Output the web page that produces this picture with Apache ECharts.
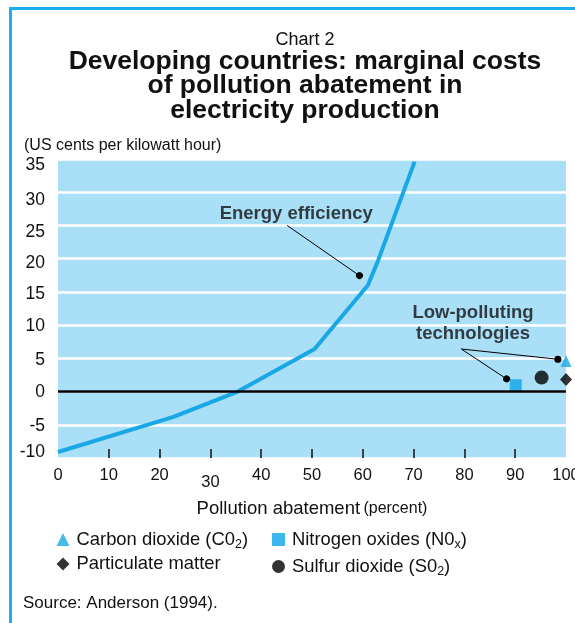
<!DOCTYPE html>
<html>
<head>
    <meta charset="utf-8">
    <title>Chart 2</title>
    <script src="https://cdn.jsdelivr.net/npm/echarts@6/dist/echarts.min.js"></script>
</head>
<body style="margin:0;background:#fff">
<div id="main" style="width: 575px;height:623px;"></div>
<script type="text/javascript">
    // curve: energy efficiency (percent abatement, US cents/kWh)
    var energyCurve = [[0, -9.1], [22.6, -3.85], [35.4, 0], [50.5, 6.4], [61.0, 16.0], [63.0, 19.7], [70.2, 34.6]];

    // low-polluting technologies
    var co2 = [[100, 4.6]];
    var nox = [[90.1, 0.95]];
    var pm = [[100, 1.8]];
    var so2 = [[95.2, 2.1]];

    var xTicks = [10, 20, 30, 40, 50, 60, 70, 80, 90];

    // annotations: label position, leader start, leader end(s)
    var energyLabel = [46.9, 26.8];
    var energyLeader = [[45.1, 25.0], [59.35, 17.45]];
    var lowLabel = [81.7, 10.3];
    var lowLeaderFrom = [79.4, 6.4];
    var lowLeaderTo = [[88.3, 1.9], [98.4, 4.86]];

    var blue = '#1AA7E6';
    var font = 'Liberation Sans, Arial, sans-serif';

    var myChart = echarts.init(document.getElementById('main'));

    var legendNames = {
        'Carbon dioxide': '{sp|}{t|Carbon dioxide (C0}{s|2}{t|)}',
        'Nitrogen oxides': '{sp|}{t|Nitrogen oxides (N0}{s|x}{t|)}',
        'Particulate matter': '{sp|}{t|Particulate matter}',
        'Sulfur dioxide': '{sp|}{t|Sulfur dioxide (S0}{s|2}{t|)}'
    };
    var legendText = {
        fontFamily: font,
        rich: {
            sp: {width: 2},
            t: {fontSize: 18.4, color: '#111', fontFamily: font, lineHeight: 20},
            s: {fontSize: 12.5, color: '#111', fontFamily: font, padding: [10, 0, 0, 0], lineHeight: 20}
        }
    };

    // the printed y labels sit a little off their grid lines
    var yLabelPad = {'35': [13, 0, 0, 0], '30': [15, 0, 0, 0], '25': [13, 0, 0, 0], '20': [9, 0, 0, 0],
        '15': [5, 0, 0, 0], '10': [3, 0, 0, 0], '5': [3, 0, 0, 0], '0': [2, 0, 0, 0], '-5': [3, 0, 0, 0],
        '-10': [0, 0, 12, 0]};
    var yRich = {};
    Object.keys(yLabelPad).forEach(function (k, i) {
        yRich['y' + i] = {fontSize: 17.5, color: '#111', fontFamily: font, padding: yLabelPad[k]};
    });
    var yKeys = Object.keys(yLabelPad);

    var option = {
        animation: false,
        textStyle: {fontFamily: font},
        graphic: [{
            type: 'rect',
            shape: {x: 10.5, y: 8.5, width: 700, height: 800},
            style: {fill: 'none', stroke: '#19AEEF', lineWidth: 3},
            silent: true
        }],
        title: [{
            text: 'Chart 2',
            left: 300, top: 26, textAlign: 'center',
            textStyle: {fontSize: 18, fontWeight: 'normal', color: '#111'}
        }, {
            text: 'Developing countries: marginal costs\nof pollution abatement in\nelectricity production',
            left: 300, top: 44, textAlign: 'center',
            textStyle: {fontSize: 26.5, fontWeight: 'bold', color: '#111', lineHeight: 24.5}
        }, {
            text: '(US cents per kilowatt hour)',
            left: 19, top: 133,
            textStyle: {fontSize: 16, fontWeight: 'normal', color: '#111'}
        }, {
            text: 'Source: Anderson (1994).',
            left: 18, top: 590,
            textStyle: {fontSize: 17, fontWeight: 'normal', color: '#111'}
        }],
        legend: [{
            orient: 'vertical',
            left: 56.5, top: 528, padding: 0,
            itemGap: 4, itemWidth: 13, itemHeight: 13,
            data: ['Carbon dioxide', 'Particulate matter'],
            formatter: function (n) { return legendNames[n]; },
            textStyle: legendText
        }, {
            orient: 'vertical',
            left: 272, top: 528, padding: 0,
            itemGap: 4, itemWidth: 13, itemHeight: 13,
            data: ['Nitrogen oxides', 'Sulfur dioxide'],
            formatter: function (n) { return legendNames[n]; },
            textStyle: legendText
        }],
        grid: {
            left: 58, right: 9, top: 159, bottom: 165,
            outerBoundsMode: 'none',
            containLabel: false,
            show: true, backgroundColor: '#AADFF8', borderWidth: 0
        },
        xAxis: {
            type: 'value',
            min: 0, max: 100, interval: 10,
            name: '{a|Pollution abatement} {b|(percent)}',
            nameLocation: 'middle',
            nameGap: 41,
            nameTextStyle: {
                rich: {
                    a: {fontSize: 18.5, color: '#111', fontFamily: font},
                    b: {fontSize: 16, color: '#111', fontFamily: font}
                }
            },
            axisLine: {show: false, onZero: false},
            axisTick: {show: true, inside: true, length: 9, customValues: xTicks,
                lineStyle: {color: '#111', width: 1.5}},
            splitLine: {show: false},
            axisLabel: {
                margin: 9,
                formatter: function (v) { return v === 30 ? '{low|30}' : '{n|' + v + '}'; },
                rich: {
                    n: {fontSize: 16.5, color: '#111', fontFamily: font},
                    low: {fontSize: 16.5, color: '#111', fontFamily: font, padding: [7, 0, 0, 0]}
                }
            }
        },
        yAxis: {
            type: 'value',
            min: -10, max: 35, interval: 5,
            axisLine: {show: false},
            axisTick: {show: false},
            splitLine: {show: true, lineStyle: {color: '#fff', width: 2.5}},
            axisLabel: {
                margin: 13,
                formatter: function (v) { return '{y' + yKeys.indexOf(String(v)) + '|' + v + '}'; },
                rich: yRich
            }
        },
        series: [{
            name: 'Energy efficiency',
            type: 'line',
            data: energyCurve,
            symbol: 'none',
            lineStyle: {color: blue, width: 4},
            z: 3,
            markLine: {
                silent: true,
                symbol: 'none',
                label: {show: false},
                lineStyle: {color: '#000', width: 2.5, type: 'solid'},
                data: [{yAxis: 0}]
            }
        }, {
            name: 'leaders',
            type: 'line',
            data: [],
            markLine: {
                silent: true,
                symbol: ['none', 'circle'],
                symbolSize: 7,
                label: {show: false},
                lineStyle: {color: '#000', width: 1, type: 'solid'},
                itemStyle: {color: '#000'},
                data: [
                    [{coord: energyLeader[0]}, {coord: energyLeader[1]}],
                    [{coord: lowLeaderFrom}, {coord: lowLeaderTo[0]}],
                    [{coord: lowLeaderFrom}, {coord: lowLeaderTo[1]}]
                ]
            }
        }, {
            name: 'labels',
            type: 'scatter',
            symbolSize: 0,
            silent: true,
            data: [
                {value: energyLabel, label: {formatter: 'Energy efficiency'}},
                {value: lowLabel, label: {formatter: 'Low-polluting\ntechnologies', lineHeight: 21}}
            ],
            label: {
                show: true, position: 'inside',
                fontSize: 18.5, fontWeight: 'bold', color: '#111', align: 'center'
            }
        }, {
            name: 'Carbon dioxide',
            type: 'scatter',
            data: co2,
            symbol: 'triangle',
            symbolSize: [11, 12],
            clip: false,
            itemStyle: {color: blue},
            z: 4
        }, {
            name: 'Nitrogen oxides',
            type: 'scatter',
            data: nox,
            symbol: 'rect',
            symbolSize: 12,
            clip: false,
            itemStyle: {color: '#0EA5E9'},
            z: 4
        }, {
            name: 'Particulate matter',
            type: 'scatter',
            data: pm,
            symbol: 'diamond',
            symbolSize: [12, 13],
            clip: false,
            itemStyle: {color: '#000'},
            z: 4
        }, {
            name: 'Sulfur dioxide',
            type: 'scatter',
            data: so2,
            symbol: 'circle',
            symbolSize: 14,
            clip: false,
            itemStyle: {color: '#000'},
            z: 4
        }]
    };

    myChart.setOption(option);
</script>
</body>
</html>
